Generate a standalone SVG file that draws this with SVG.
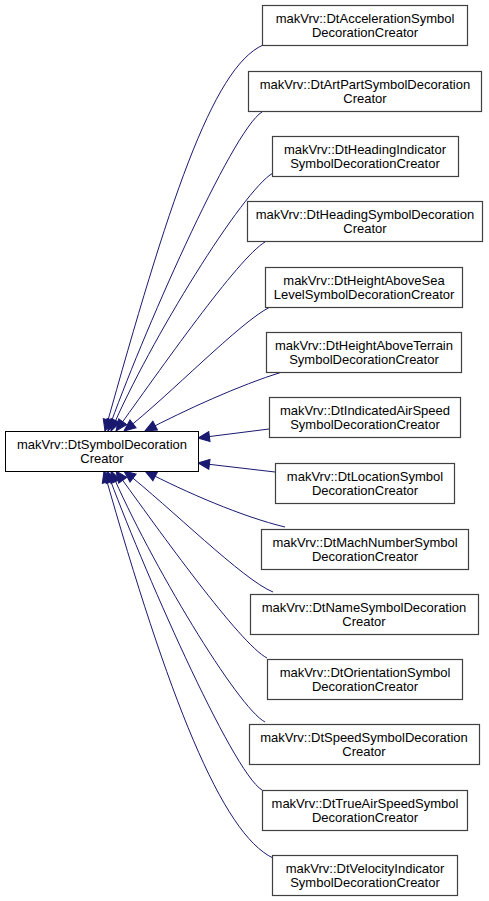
<svg xmlns="http://www.w3.org/2000/svg" width="489" height="901" viewBox="0 0 489 901">
<style>
.bg{fill:#ffffff}
.n rect{fill:#ffffff;stroke:#404040;stroke-width:1.2}
#base rect{stroke:#000000;stroke-width:1}
.n text{font-family:"Liberation Sans",Arial,sans-serif;font-size:13px;fill:#000000;text-anchor:middle}
.e path{fill:none;stroke:#191970;stroke-width:1;marker-end:url(#ah)}
</style>
<defs>
<marker id="ah" markerUnits="userSpaceOnUse" markerWidth="14" markerHeight="12" refX="11.5" refY="5" orient="auto" overflow="visible">
<path d="M0,0 L11.5,5 L0,10 Z" fill="#191970" stroke="#191970" stroke-width="1"/>
</marker>
</defs>
<rect class="bg" x="0" y="0" width="489" height="901"/>
<g id="edges" class="e">
<path d="M263,45 C212,68 168,205 105,431"/>
<path d="M262,112 C232,130 140,340 108,431"/>
<path d="M273,173 C243,190 150,340 111,431"/>
<path d="M265,242 C238,258 160,370 116,431"/>
<path d="M270,307 C240,322 170,395 124,431"/>
<path d="M282,372 C240,385 185,410 145,431"/>
<path d="M269,429 L198,438"/>
<path d="M275,472 L198,463"/>
<path d="M285,527 C243,517 185,492 145,471"/>
<path d="M273,592 C243,580 170,507 124,471"/>
<path d="M267,658 C240,644 160,532 116,471"/>
<path d="M265,722 C238,708 150,562 111,471"/>
<path d="M262,790 C232,772 140,562 107,471"/>
<path d="M273,858 C222,834 168,697 104,471"/>
</g>
<g id="base" class="n"><rect x="5.5" y="431.5" width="193" height="40"/><text x="102" y="449">makVrv::DtSymbolDecoration</text><text x="102" y="463">Creator</text></g>
<g id="accel" class="n"><rect x="262.5" y="5.5" width="205" height="40"/><text x="365" y="23">makVrv::DtAccelerationSymbol</text><text x="365" y="37">DecorationCreator</text></g>
<g id="artpart" class="n"><rect x="248.5" y="71.5" width="233" height="40"/><text x="365" y="89">makVrv::DtArtPartSymbolDecoration</text><text x="365" y="103">Creator</text></g>
<g id="headingind" class="n"><rect x="272.5" y="136.5" width="186" height="40"/><text x="365" y="154">makVrv::DtHeadingIndicator</text><text x="365" y="168">SymbolDecorationCreator</text></g>
<g id="headingsym" class="n"><rect x="247.5" y="201.5" width="235" height="40"/><text x="365" y="219">makVrv::DtHeadingSymbolDecoration</text><text x="365" y="233">Creator</text></g>
<g id="heightsea" class="n"><rect x="265.5" y="267.5" width="197" height="40"/><text x="364" y="285">makVrv::DtHeightAboveSea</text><text x="364" y="299">LevelSymbolDecorationCreator</text></g>
<g id="heightterrain" class="n"><rect x="266.5" y="332.5" width="195" height="40"/><text x="364" y="350">makVrv::DtHeightAboveTerrain</text><text x="364" y="364">SymbolDecorationCreator</text></g>
<g id="ias" class="n"><rect x="269.5" y="397.5" width="191" height="40"/><text x="365" y="415">makVrv::DtIndicatedAirSpeed</text><text x="365" y="429">SymbolDecorationCreator</text></g>
<g id="location" class="n"><rect x="275.5" y="463.5" width="179" height="40"/><text x="365" y="481">makVrv::DtLocationSymbol</text><text x="365" y="495">DecorationCreator</text></g>
<g id="mach" class="n"><rect x="261.5" y="529.5" width="207" height="40"/><text x="365" y="547">makVrv::DtMachNumberSymbol</text><text x="365" y="561">DecorationCreator</text></g>
<g id="name" class="n"><rect x="250.5" y="594.5" width="228" height="40"/><text x="364" y="612">makVrv::DtNameSymbolDecoration</text><text x="364" y="626">Creator</text></g>
<g id="orientation" class="n"><rect x="267.5" y="659.5" width="195" height="40"/><text x="365" y="677">makVrv::DtOrientationSymbol</text><text x="365" y="691">DecorationCreator</text></g>
<g id="speed" class="n"><rect x="249.5" y="724.5" width="230" height="40"/><text x="364" y="742">makVrv::DtSpeedSymbolDecoration</text><text x="364" y="756">Creator</text></g>
<g id="trueair" class="n"><rect x="262.5" y="790.5" width="205" height="40"/><text x="365" y="808">makVrv::DtTrueAirSpeedSymbol</text><text x="365" y="822">DecorationCreator</text></g>
<g id="velocity" class="n"><rect x="272.5" y="855.5" width="185" height="40"/><text x="365" y="873">makVrv::DtVelocityIndicator</text><text x="365" y="887">SymbolDecorationCreator</text></g>
</svg>
